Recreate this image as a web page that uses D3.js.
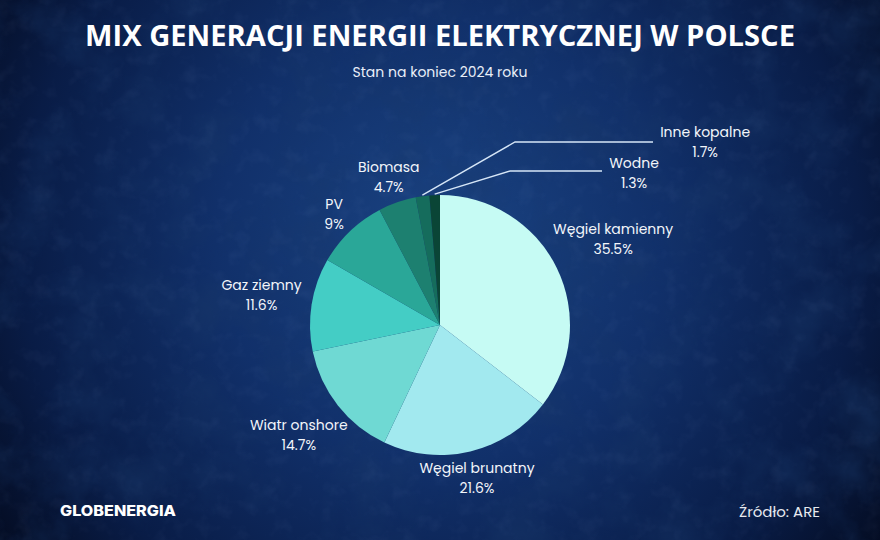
<!DOCTYPE html>
<html>
<head>
<meta charset="utf-8">
<script src="https://cdn.jsdelivr.net/npm/d3@7"></script>
<style>
  html, body { margin: 0; padding: 0; background: #0b1a3d; }
  svg { display: block; }
</style>
</head>
<body>
<svg id="chart" width="880" height="540"></svg>
<script>
// ---------- données ----------
var categories = ["Węgiel kamienny", "Węgiel brunatny", "Wiatr onshore", "Gaz ziemny", "PV", "Biomasa", "Inne kopalne", "Wodne"];
var valeurs = [35.5, 21.6, 14.7, 11.6, 9, 4.7, 1.7, 1.3];
var etiquettes = ["35.5%", "21.6%", "14.7%", "11.6%", "9%", "4.7%", "1.7%", "1.3%"];
var couleurs = ["#c6fbf4", "#a2e9ef", "#6fd9d3", "#44cdc5", "#2aa798", "#1d8070", "#156c5c", "#0a4536"];

var titre = "MIX GENERACJI ENERGII ELEKTRYCZNEJ W POLSCE";
var sousTitre = "Stan na koniec 2024 roku";
var source = "Źródło: ARE";
var logo = "GLOBENERGIA";

var W = 880, H = 540;
var cx = 440, cy = 325, rayon = 130;
var police = "Poppins, Inter, 'Noto Sans', sans-serif";

var svg = d3.select("#chart");
var defs = svg.append("defs");

//-------------------Fond----------------------------------------
var grad = defs.append("radialGradient")
    .attr("id", "fond")
    .attr("gradientUnits", "userSpaceOnUse")
    .attr("cx", 440).attr("cy", 240).attr("r", 560);
grad.append("stop").attr("offset", 0).attr("stop-color", "#1a4382");
grad.append("stop").attr("offset", 0.4).attr("stop-color", "#11306a");
grad.append("stop").attr("offset", 0.75).attr("stop-color", "#091c46");
grad.append("stop").attr("offset", 1).attr("stop-color", "#03091b");

// taches sombres
var taches = defs.append("filter").attr("id", "taches")
    .attr("x", 0).attr("y", 0).attr("width", "100%").attr("height", "100%");
taches.append("feTurbulence")
    .attr("type", "fractalNoise")
    .attr("baseFrequency", 0.018)
    .attr("numOctaves", 5)
    .attr("seed", 3);
taches.append("feColorMatrix")
    .attr("type", "matrix")
    .attr("values", "0 0 0 0 0.01  0 0 0 0 0.04  0 0 0 0 0.14  -1.8 0 0 0 1.05");

// grain clair
var grain = defs.append("filter").attr("id", "grain")
    .attr("x", 0).attr("y", 0).attr("width", "100%").attr("height", "100%");
grain.append("feTurbulence")
    .attr("type", "fractalNoise")
    .attr("baseFrequency", 0.06)
    .attr("numOctaves", 3)
    .attr("seed", 11);
grain.append("feColorMatrix")
    .attr("type", "matrix")
    .attr("values", "0 0 0 0 0.45  0 0 0 0 0.6  0 0 0 0 0.95  1.8 0 0 0 -0.9");

svg.append("rect").attr("width", W).attr("height", H).attr("fill", "url(#fond)");
svg.append("rect").attr("width", W).attr("height", H)
    .attr("filter", "url(#taches)").attr("opacity", 0.5);
svg.append("rect").attr("width", W).attr("height", H)
    .attr("filter", "url(#grain)").attr("opacity", 0.06);

//-------------------Titres----------------------------------------
svg.append("text")
    .attr("x", W / 2).attr("y", 46)
    .attr("text-anchor", "middle")
    .attr("fill", "#ffffff")
    .attr("font-family", "'Open Sans', sans-serif")
    .attr("font-weight", 700)
    .attr("font-size", 29)
    .attr("textLength", 710)
    .attr("lengthAdjust", "spacingAndGlyphs")
    .text(titre);

svg.append("text")
    .attr("x", W / 2).attr("y", 77)
    .attr("text-anchor", "middle")
    .attr("fill", "#e8eef8")
    .attr("font-family", police)
    .attr("font-size", 14)
    .text(sousTitre);

//-------------------Camembert----------------------------------------
var donnees = categories.map(function(c, i) {
    return { nom: c, valeur: valeurs[i], etiquette: etiquettes[i], couleur: couleurs[i] };
});

var pie = d3.pie().sort(null).value(function(d) { return d.valeur; });
var arc = d3.arc().innerRadius(0).outerRadius(rayon);
var arcs = pie(donnees);

var g = svg.append("g").attr("transform", "translate(" + cx + "," + cy + ")");

g.selectAll("path.part")
    .data(arcs)
    .enter()
    .append("path")
    .attr("class", "part")
    .attr("d", arc)
    .attr("fill", function(d) { return d.data.couleur; });

//-------------------Etiquettes----------------------------------------
var grands = arcs.filter(function(d) { return d.data.valeur >= 2; });
var petits = arcs.filter(function(d) { return d.data.valeur < 2; });

function creerEtiquette(x, y, d) {
    var t = g.append("text")
        .attr("text-anchor", "middle")
        .attr("fill", "#f2f5fa")
        .attr("font-family", police)
        .attr("font-size", 14);
    t.append("tspan").attr("x", x).attr("y", y - 5).text(d.data.nom);
    t.append("tspan").attr("x", x).attr("y", y + 15).text(d.data.etiquette);
    return t;
}

grands.forEach(function(d) {
    var a = (d.startAngle + d.endAngle) / 2;
    var t = creerEtiquette(0, 0, d);
    var hw = t.node().getBBox().width / 2;
    // distance du centre selon la largeur du texte
    var rl = rayon + 17 + 0.85 * hw * Math.abs(Math.sin(a));
    var x = Math.sin(a) * rl;
    var y = -Math.cos(a) * rl;
    t.selectAll("tspan").attr("x", x);
    t.select("tspan:nth-child(1)").attr("y", y - 6);
    t.select("tspan:nth-child(2)").attr("y", y + 14);
});

// petites parts : lignes de rappel
petits.slice().reverse().forEach(function(d, k) {
    var a = (d.startAngle + d.endAngle) / 2;
    var x0 = Math.sin(a) * (rayon + 1);
    var y0 = -Math.cos(a) * (rayon + 1);
    var ey = -rayon - 24 - 29 * k;
    var ex = 70 + 5 * k;
    var fx = ex + 92 + 46 * k;
    g.append("polyline")
        .attr("points", [[x0, y0], [ex, ey], [fx, ey]].map(function(p) { return p.join(","); }).join(" "))
        .attr("fill", "none")
        .attr("stroke", "#d6e6f7")
        .attr("stroke-width", 1.4);
    var t = creerEtiquette(0, ey + 2 - k * 2, d);
    var hw = t.node().getBBox().width / 2;
    t.selectAll("tspan").attr("x", fx + 7 + hw);
});

//-------------------Pied de page----------------------------------------
svg.append("text")
    .attr("x", 60).attr("y", 516)
    .attr("fill", "#ffffff")
    .attr("font-family", "Inter, 'Noto Sans', sans-serif")
    .attr("font-weight", 800)
    .attr("font-size", 14.5)
    .attr("textLength", 116)
    .attr("lengthAdjust", "spacingAndGlyphs")
    .text(logo);

svg.append("text")
    .attr("x", 820).attr("y", 517)
    .attr("text-anchor", "end")
    .attr("fill", "#e6e9ef")
    .attr("font-family", police)
    .attr("font-size", 15)
    .text(source);
</script>
</body>
</html>
